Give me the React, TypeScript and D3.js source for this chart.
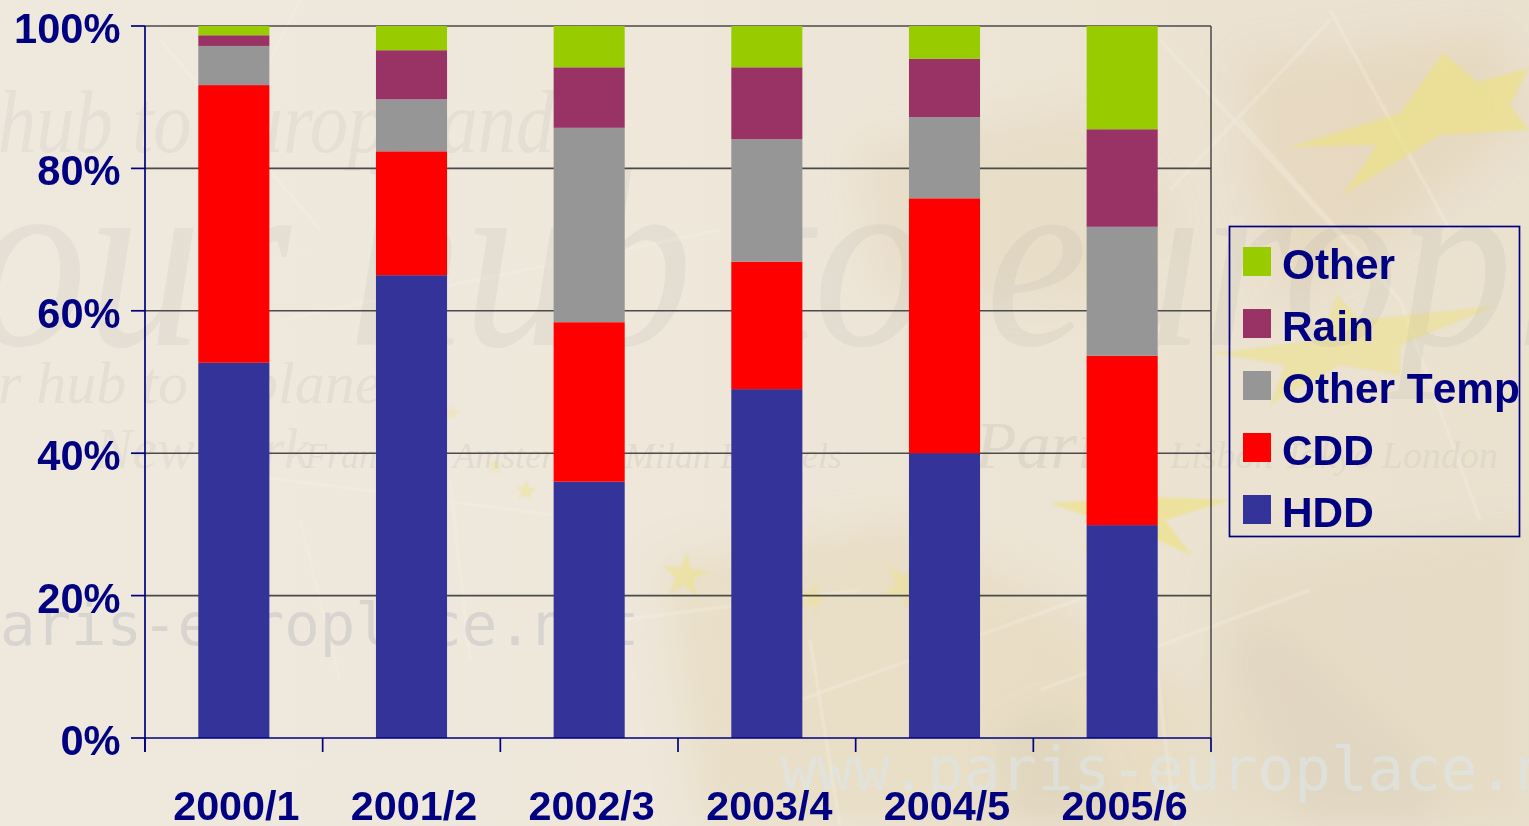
import React from "react";
import * as d3 from "d3";

const categories = ["2000/1", "2001/2", "2002/3", "2003/4", "2004/5", "2005/6"];
const seriesNames = ["HDD", "CDD", "Other Temp", "Rain", "Other"];
const hdd = [52.7, 65.0, 36.0, 49.0, 40.0, 29.9];
const cdd = [39.0, 17.4, 22.4, 17.9, 35.8, 23.8];
const otherTemp = [5.5, 7.3, 27.3, 17.2, 11.4, 18.1];
const rain = [1.5, 6.9, 8.5, 10.1, 8.2, 13.7];
const other = [1.3, 3.4, 5.8, 5.8, 4.6, 14.5];
const colors = ["#333399", "#ff0000", "#969696", "#993366", "#99cc00"];
const yTicks = [0, 20, 40, 60, 80, 100];

const W = 1529, H = 826;
const plot = { left: 145, right: 1211, top: 26, bottom: 738 };
const NAVY = "#000080";
const FONT = "'Liberation Sans', Arial, sans-serif";
const SERIF = "'Liberation Serif', serif";
const MONO = "'DejaVu Sans Mono', monospace";

const rows = categories.map((c, i) => ({
  cat: c, HDD: hdd[i], CDD: cdd[i], "Other Temp": otherTemp[i], Rain: rain[i], Other: other[i],
}));
const stacked = d3.stack<any>().keys(seriesNames)(rows);

const x = d3.scaleBand<string>().domain(categories).range([plot.left, plot.right]).paddingInner(0.6).paddingOuter(0.3);
const xStep = d3.scalePoint<number>().domain(d3.range(categories.length + 1)).range([plot.left, plot.right]);
const y = d3.scaleLinear().domain([0, 100]).range([plot.bottom, plot.top]);

// Background decoration only (no data)
const starPoints = (cx: number, cy: number, r: number, rot: number) =>
  d3.range(10).map((i) => {
    const rad = i % 2 === 0 ? r : r * 0.38;
    const a = rot + (i * Math.PI) / 5;
    return `${cx + rad * Math.sin(a)},${cy - rad * Math.cos(a)}`;
  }).join(" ");

const bigStars = [
  { o: 0.62, p: "1290,147 1400,113 1443,53 1478,82 1529,68 1510,105 1529,130 1440,135 1343,195 1377,145" },
  { o: 0.5, p: "1213,353 1320,340 1337,295 1360,320 1495,306 1400,345 1400,375 1340,365 1270,405 1285,365" },
  { o: 0.65, p: "1050,503 1105,500 1125,480 1150,497 1230,500 1165,520 1191,555 1135,530 1084,550 1100,520" },
];
const smallStars = [
  { cx: 685, cy: 576, r: 24, rot: 0.1, o: 0.5 },
  { cx: 526, cy: 491, r: 11, rot: 0.1, o: 0.45 },
  { cx: 495, cy: 466, r: 9, rot: 0.1, o: 0.3 },
  { cx: 905, cy: 585, r: 26, rot: 0.5, o: 0.4 },
  { cx: 812, cy: 598, r: 16, rot: 0.3, o: 0.4 },
  { cx: 452, cy: 413, r: 9, rot: 0.1, o: 0.3 },
];
const blobs = [
  { p: "860,150 1090,110 1170,220 1080,300 880,290", c: "#dfcba6", o: 0.28 },
  { p: "1240,60 1500,30 1529,120 1400,230 1290,300 1250,180", c: "#e0c9a2", o: 0.32 },
  { p: "660,560 900,520 1050,600 1200,700 1180,826 700,826", c: "#e2cfa8", o: 0.34 },
  { p: "1220,560 1529,520 1529,826 1200,826", c: "#e0d3b8", o: 0.42 },
  { p: "1000,730 1060,700 1130,826 1010,826", c: "#bdb5a5", o: 0.18 },
  { p: "1230,640 1280,630 1420,760 1440,826 1300,826", c: "#c8c0ae", o: 0.2 },
];
const mapLines = [
  "1160,40 1400,300 1480,520", "1170,190 1330,20", "1330,10 1450,230", "1240,120 1400,300",
  "1040,690 1310,590", "1140,520 1175,826", "800,700 1160,570", "620,620 860,590", "810,640 840,826",
  "160,40 320,230", "240,120 300,0", "210,470 590,520", "300,520 340,680", "450,480 470,660", "280,320 720,230",
];
const watermarks = [
  { t: "r hub to a planet", x: -2, y: 403, s: 60, o: 0.11 },
  { t: "New York", x: 95, y: 468, s: 56, o: 0.1 },
  { t: "Frankfurt  Amsterdam  Milan  Brussels", x: 305, y: 468, s: 36, o: 0.13 },
  { t: "Paris", x: 975, y: 468, s: 68, o: 0.13 },
  { t: "Lisbon  Tokyo  London", x: 1170, y: 468, s: 38, o: 0.11 },
];

export default function App() {
  return (
    <svg width={W} height={H} viewBox={`0 0 ${W} ${H}`} style={{ position: "absolute", left: 0, top: 0, display: "block" }}>
      <defs>
        <linearGradient id="bg" x1="0" y1="0" x2="1" y2="0">
          <stop offset="0" stopColor="#efe8dd" />
          <stop offset="0.45" stopColor="#eee7da" />
          <stop offset="0.8" stopColor="#ebe2d1" />
          <stop offset="1" stopColor="#eae1cf" />
        </linearGradient>
        <filter id="soft" x="-20%" y="-20%" width="140%" height="140%"><feGaussianBlur stdDeviation="18" /></filter>
        <filter id="soft1" x="-5%" y="-5%" width="110%" height="110%"><feGaussianBlur stdDeviation="1" /></filter>
      </defs>
      <rect x={0} y={0} width={W} height={H} fill="url(#bg)" />
      <g>
        <g filter="url(#soft)">
          {blobs.map((b, i) => <polygon key={i} points={b.p} fill={b.c} opacity={b.o} />)}
        </g>
        <g filter="url(#soft1)" fill="none" stroke="#f8f4ea" strokeWidth={3} opacity={0.35}>
          {mapLines.map((l, i) => <polyline key={i} points={l} />)}
        </g>
        <g filter="url(#soft1)">
          {bigStars.map((s, i) => <polygon key={i} points={s.p} fill="#eee27f" opacity={s.o} />)}
          {smallStars.map((s, i) => (
            <polygon key={i} points={starPoints(s.cx, s.cy, s.r, s.rot)} fill="#eee27f" opacity={s.o} />
          ))}
        </g>
        <text transform="translate(-28,345) scale(0.9,1)" fontFamily={SERIF} fontStyle="italic" fontSize={255} fill="#8f8f8f" opacity={0.1}>our hub to europlace</text>
        <text transform="translate(-2,152) scale(0.87,1)" fontFamily={SERIF} fontStyle="italic" fontSize={88} fill="#8f8f8f" opacity={0.1}>hub to europe and</text>
        {watermarks.map((w, i) => (
          <text key={i} x={w.x} y={w.y} fontFamily={SERIF} fontStyle="italic" fontSize={w.s} fill="#8f8f8f" opacity={w.o}>{w.t}</text>
        ))}
        <text x={0} y={645} fontFamily={MONO} fontSize={59} fill="#8a93a8" opacity={0.22}>aris-europlace.net</text>
        <text x={780} y={790} fontFamily={MONO} fontSize={61} fill="#dce6ea" opacity={0.6}>www.paris-europlace.net</text>
      </g>

      {yTicks.filter((t) => t > 0).map((t) => (
        <line key={t} x1={plot.left} x2={plot.right} y1={y(t)} y2={y(t)} stroke="#4a4a4a" strokeWidth={1.6} />
      ))}
      <line x1={plot.right} x2={plot.right} y1={plot.top} y2={plot.bottom} stroke="#4a4a4a" strokeWidth={1.5} />

      {stacked.map((layer, si) => (
        <g key={layer.key} fill={colors[si]}>
          {layer.map((d: any) => (
            <rect key={d.data.cat} x={x(d.data.cat)} width={x.bandwidth()} y={y(d[1])} height={y(d[0]) - y(d[1])} />
          ))}
        </g>
      ))}

      <g stroke={NAVY} strokeWidth={1.7}>
        <line x1={plot.left} x2={plot.left} y1={plot.top} y2={plot.bottom + 14} />
        <line x1={plot.left} x2={plot.right} y1={plot.bottom} y2={plot.bottom} />
        {yTicks.map((t) => (
          <line key={t} x1={plot.left - 14} x2={plot.left} y1={y(t)} y2={y(t)} />
        ))}
        {xStep.domain().map((i) => (
          <line key={i} x1={xStep(i)} x2={xStep(i)} y1={plot.bottom} y2={plot.bottom + 14} />
        ))}
      </g>

      <g fontFamily={FONT} fontWeight={700} fill={NAVY} style={{ fontKerning: "none" }}>
        {yTicks.map((t) => (
          <text key={t} x={120.5} y={y(t) + 17} textAnchor="end" fontSize={41.6}>{t}%</text>
        ))}
        {categories.map((c) => (
          <text key={c} x={(x(c) as number) + x.bandwidth() / 2 + 2.5} y={820} textAnchor="middle" fontSize={41.3}>{c}</text>
        ))}
      </g>

      <rect x={1229.5} y={226.5} width={290} height={310} fill="none" stroke={NAVY} strokeWidth={1.7} />
      <g fontFamily={FONT} fontWeight={700} fontSize={42.4} fill={NAVY} style={{ fontKerning: "none" }}>
        {[...seriesNames].reverse().map((n, i) => {
          const cy = 261.5 + i * 62;
          return (
            <g key={n}>
              <rect x={1243} y={cy - 14.5} width={28} height={29} fill={colors[seriesNames.indexOf(n)]} />
              <text x={1282} y={cy + 17.5}>{n}</text>
            </g>
          );
        })}
      </g>
    </svg>
  );
}
